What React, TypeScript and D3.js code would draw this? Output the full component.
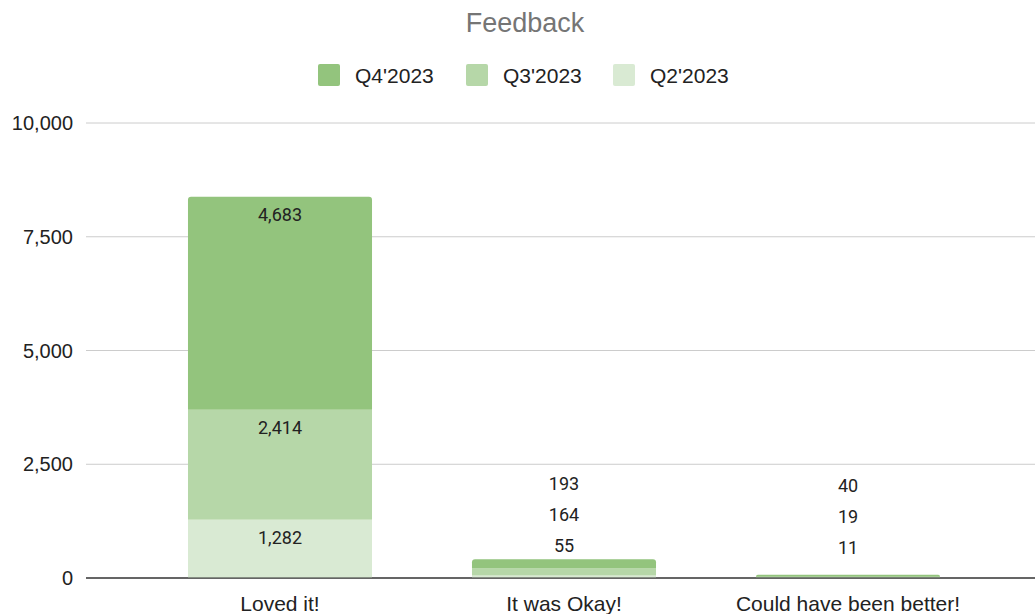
import { useEffect, useRef } from "react";
import * as d3 from "d3";

// Categories and series values (stacked bottom-to-top: Q2, Q3, Q4)
const CATEGORIES = ["Loved it!", "It was Okay!", "Could have been better!"];
const Q2_2023 = [1282, 55, 11];
const Q3_2023 = [2414, 164, 19];
const Q4_2023 = [4683, 193, 40];
const Y_TICKS = [0, 2500, 5000, 7500, 10000];

const SERIES = [
  { key: "q2", label: "Q2'2023", color: "#d9ead3", values: Q2_2023 },
  { key: "q3", label: "Q3'2023", color: "#b6d7a8", values: Q3_2023 },
  { key: "q4", label: "Q4'2023", color: "#93c47d", values: Q4_2023 },
];

const W = 1035;
const H = 614;
const FONT = "'Liberation Sans', Arial, sans-serif";
const LABEL_FONT = "Roboto, 'Noto Sans', sans-serif";

export default function App() {
  const svgRef = useRef<SVGSVGElement | null>(null);

  useEffect(() => {
    document.body.style.margin = "0";
    const svg = d3.select(svgRef.current);
    svg.selectAll("*").remove();

    const x = d3.scaleBand<string>()
      .domain(CATEGORIES)
      .range([138, 990])
      .paddingInner(0.352)
      .paddingOuter(0.176);

    const y = d3.scaleLinear().domain([0, 10000]).range([578, 123]);

    // ----- Title -----
    svg.append("text")
      .attr("x", 525).attr("y", 32)
      .attr("text-anchor", "middle")
      .attr("font-family", FONT)
      .attr("font-size", 27)
      .attr("fill", "#757575")
      .text("Feedback");

    // ----- Legend (Q4, Q3, Q2 order) -----
    const legendItems = [...SERIES].reverse();
    const legendX = [318, 466, 613];
    legendItems.forEach((s, i) => {
      const g = svg.append("g").attr("transform", `translate(${legendX[i]},64)`);
      g.append("rect")
        .attr("width", 22).attr("height", 22).attr("rx", 2)
        .attr("fill", s.color);
      g.append("text")
        .attr("x", 37).attr("y", 18.5)
        .attr("font-family", FONT)
        .attr("font-size", 21)
        .attr("fill", "#222")
        .text(s.label);
    });

    // ----- Gridlines + y labels -----
    const grid = svg.append("g");
    Y_TICKS.forEach((t) => {
      grid.append("line")
        .attr("x1", 86).attr("x2", W)
        .attr("y1", y(t)).attr("y2", y(t))
        .attr("stroke", t === 0 ? "#333" : "#ccc")
        .attr("stroke-width", 1);
      grid.append("text")
        .attr("x", 73).attr("y", y(t) + 7)
        .attr("text-anchor", "end")
        .attr("font-family", FONT)
        .attr("font-size", 20)
        .attr("fill", "#222")
        .text(d3.format(",")(t));
    });

    // ----- Stacked bars -----
    const rows = CATEGORIES.map((c, i) => ({
      cat: c, q2: Q2_2023[i], q3: Q3_2023[i], q4: Q4_2023[i],
    }));
    const stack = d3.stack<any>().keys(SERIES.map((s) => s.key));
    const layers = stack(rows);

    const bars = svg.append("g");
    layers.forEach((layer, li) => {
      const s = SERIES[li];
      layer.forEach((d, ci) => {
        const x0 = x(CATEGORIES[ci])!;
        const bw = x.bandwidth();
        const yTop = y(d[1]);
        const yBot = y(d[0]);
        const h = Math.max(0, yBot - yTop);
        if (li === layers.length - 1) {
          // rounded top corners on the top segment
          const r = Math.min(3, h);
          const p = d3.path();
          p.moveTo(x0, yBot);
          p.lineTo(x0, yTop + r);
          p.quadraticCurveTo(x0, yTop, x0 + r, yTop);
          p.lineTo(x0 + bw - r, yTop);
          p.quadraticCurveTo(x0 + bw, yTop, x0 + bw, yTop + r);
          p.lineTo(x0 + bw, yBot);
          p.closePath();
          bars.append("path").attr("d", p.toString()).attr("fill", s.color);
        } else {
          bars.append("rect")
            .attr("x", x0).attr("y", yTop)
            .attr("width", bw).attr("height", h)
            .attr("fill", s.color);
        }
      });
    });
    // axis baseline on top of the bars
    svg.append("line")
      .attr("x1", 86).attr("x2", W)
      .attr("y1", y(0)).attr("y2", y(0))
      .attr("stroke", "#333");

    // ----- Data labels -----
    const labels = svg.append("g");
    CATEGORIES.forEach((c, ci) => {
      const cx = x(c)! + x.bandwidth() / 2;
      const segs = layers.map((l) => l[ci]);
      const fits = segs.every((d) => y(d[0]) - y(d[1]) > 30);
      if (fits) {
        segs.forEach((d, li) => {
          labels.append("text")
            .attr("x", cx).attr("y", y(d[1]) + 24)
            .attr("text-anchor", "middle")
            .attr("font-family", LABEL_FONT)
            .attr("font-size", 18)
            .attr("fill", "#222")
            .text(d3.format(",")(SERIES[li].values[ci]));
        });
      } else {
        // stack labels above the bar when segments are too thin
        const barTop = y(segs[segs.length - 1][1]);
        const base = Math.min(barTop - 13, y(0) - 30);
        segs.forEach((d, li) => {
          labels.append("text")
            .attr("x", cx).attr("y", base - li * 31 + 6)
            .attr("text-anchor", "middle")
            .attr("font-family", LABEL_FONT)
            .attr("font-size", 18)
            .attr("fill", "#222")
            .text(d3.format(",")(SERIES[li].values[ci]));
        });
      }
    });

    // ----- Category labels -----
    CATEGORIES.forEach((c) => {
      svg.append("text")
        .attr("x", x(c)! + x.bandwidth() / 2)
        .attr("y", 611)
        .attr("text-anchor", "middle")
        .attr("font-family", FONT)
        .attr("font-size", 21)
        .attr("fill", "#222")
        .text(c);
    });
  }, []);

  return (
    <div style={{ position: "absolute", left: 0, top: 0 }}>
      <svg ref={svgRef} width={W} height={H} style={{ display: "block", background: "#fff" }}></svg>
    </div>
  );
}
